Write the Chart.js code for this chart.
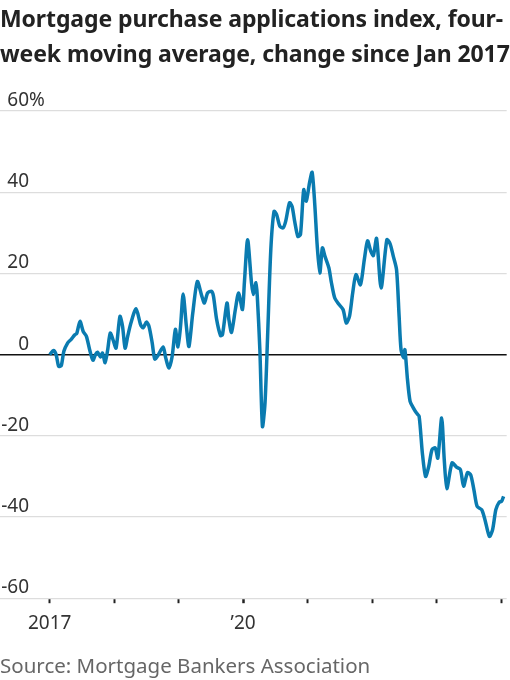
<!DOCTYPE html>
<html>
<head>
<meta charset="utf-8">
<script src="https://cdn.jsdelivr.net/npm/chart.js@4.4.1/dist/chart.umd.min.js"></script>
<style>
    body { margin: 0; width: 510px; height: 680px; position: relative; background: #fff; overflow: hidden; font-family: "Noto Sans", sans-serif; }
    #title { position: absolute; left: 0; top: 1px; width: 520px; font-size: 23px; font-weight: 700; line-height: 35px; color: #222; letter-spacing: -0.1px; z-index: 2; }
    #chartBox { position: absolute; left: 0; top: 0; width: 510px; height: 680px; }
    #source { position: absolute; left: 0; top: 655px; font-size: 20.5px; line-height: 20px; color: #666; }
</style>
</head>
<body>
<div id="title">Mortgage purchase applications index, four-<br>week moving average, change since Jan 2017</div>
<div id="chartBox"><canvas id="mortgageChart" width="510" height="680"></canvas></div>
<div id="source">Source: Mortgage Bankers Association</div>
<script>
// week positions as decimal years
const weekYears = [
    2017.00, 2017.06, 2017.10, 2017.14, 2017.18, 2017.22, 2017.28, 2017.33, 2017.39, 2017.42,
    2017.47, 2017.52, 2017.57, 2017.62, 2017.67, 2017.71, 2017.74, 2017.79, 2017.82, 2017.86,
    2017.90, 2017.94, 2017.99, 2018.03, 2018.09, 2018.13, 2018.17, 2018.21, 2018.26, 2018.34,
    2018.41, 2018.45, 2018.50, 2018.54, 2018.59, 2018.63, 2018.68, 2018.76, 2018.80, 2018.85,
    2018.90, 2018.95, 2018.99, 2019.03, 2019.07, 2019.12, 2019.16, 2019.22, 2019.29, 2019.36,
    2019.40, 2019.45, 2019.51, 2019.54, 2019.59, 2019.65, 2019.68, 2019.75, 2019.78, 2019.82,
    2019.88, 2019.93, 2019.99, 2020.02, 2020.07, 2020.13, 2020.16, 2020.20, 2020.22, 2020.26,
    2020.30, 2020.34, 2020.38, 2020.43, 2020.48, 2020.52, 2020.57, 2020.62, 2020.66, 2020.72,
    2020.76, 2020.80, 2020.85, 2020.89, 2020.94, 2020.98, 2021.03, 2021.07, 2021.11, 2021.15,
    2021.19, 2021.23, 2021.27, 2021.33, 2021.37, 2021.42, 2021.47, 2021.55, 2021.60, 2021.65,
    2021.70, 2021.75, 2021.82, 2021.88, 2021.93, 2021.98, 2022.02, 2022.07, 2022.14, 2022.23,
    2022.28, 2022.33, 2022.38, 2022.42, 2022.45, 2022.49, 2022.51, 2022.55, 2022.59, 2022.64,
    2022.69, 2022.73, 2022.78, 2022.83, 2022.88, 2022.93, 2022.98, 2023.02, 2023.08, 2023.12,
    2023.16, 2023.24, 2023.31, 2023.37, 2023.42, 2023.48, 2023.53, 2023.58, 2023.63, 2023.70,
    2023.75, 2023.82, 2023.87, 2023.92, 2023.97, 2024.01, 2024.04
];
// % change since Jan 2017
const changePct = [
    0, 1, 0, -2.9, -2.7, 0.8, 2.9, 3.7, 4.9, 5.2,
    8.2, 5.7, 4.5, 1.2, -1.4, 0, 0.6, -0.6, 0.4, -2,
    1.2, 5.3, 3.3, 1.6, 9.4, 7, 1.6, 4.5, 7.8, 11.3,
    7.4, 6.6, 8, 7, 2.9, -1.1, -0.2, 1.9, -0.8, -3.3,
    -0.4, 6.2, 1.9, 7, 14.9, 7, 2, 10.3, 18, 14.4,
    12.7, 15.2, 15.6, 14.4, 8.6, 4.7, 4.9, 12.7, 8.6, 5.5,
    11.1, 15.2, 11.1, 17.7, 28.3, 17.7, 14.8, 17.7, 14.4, 1.2,
    -17.7, -11.9, 4.5, 25.9, 35.3, 34.5, 31.6, 31.2, 32.8, 37.4,
    36.5, 32.8, 29.1, 29.6, 40.6, 37.8, 42.3, 44.9, 37.4, 26.7,
    20.1, 26.3, 24.2, 21.4, 17.7, 14, 12.7, 11.1, 7.8, 9.4,
    15.2, 19.7, 17.2, 23.4, 28, 25.5, 24.4, 28.6, 16.4, 28.3,
    27.3, 24.2, 20.9, 9.4, 1.2, -0.8, 1.2, -6.2, -11.5, -13.1,
    -14.4, -15.2, -24.2, -30, -27.5, -23.4, -23, -25.5, -15.6, -25.9,
    -33, -26.7, -27.7, -28.3, -32.4, -29.1, -29.6, -33.3, -37.4, -38.2,
    -40.6, -44.8, -43.1, -38.2, -36.4, -36.1, -34.9
];
const yTicks = [60, 40, 20, 0, -20, -40, -60];
const yTickLabels = ['60', '40', '20', '0', '-20', '-40', '-60'];
const xTicks = [2017, 2018, 2019, 2020, 2021, 2022, 2023, 2024];
const xTickLabels = ['2017', '', '', '\u201920', '', '', '', ''];

const labelFont = '19px "Noto Sans", sans-serif';

// WSJ style: y labels sit on top of the gridlines, at the left edge
const yLabelPlugin = {
    id: 'yLabels',
    afterDraw(chart) {
        const ctx = chart.ctx;
        const y = chart.scales.y;
        ctx.save();
        ctx.font = labelFont;
        ctx.fillStyle = '#333';
        ctx.textBaseline = 'alphabetic';
        yTicks.forEach((v, i) => {
            const py = y.getPixelForValue(v) - 5;
            ctx.textAlign = 'right';
            ctx.fillText(yTickLabels[i], 29, py);
            if (i === 0) {
                ctx.textAlign = 'left';
                ctx.fillText('%', 29, py);
            }
        });
        ctx.restore();
    }
};

const ctx = document.getElementById('mortgageChart').getContext('2d');
new Chart(ctx, {
    type: 'line',
    data: {
        datasets: [{
            data: weekYears.map((yr, i) => ({ x: yr, y: changePct[i] })),
            borderColor: '#0a7bb0',
            borderWidth: 3.5,
            pointRadius: 0,
            tension: 0.25,
            fill: false
        }]
    },
    options: {
        responsive: false,
        animation: false,
        devicePixelRatio: 1,
        layout: { padding: { top: 111, bottom: 36, left: 0, right: 0 } },
        plugins: { legend: { display: false }, tooltip: { enabled: false } },
        scales: {
            x: {
                type: 'linear',
                min: 2017 - 50 / 64.9,
                max: 2017 + 460 / 64.9,
                afterBuildTicks: scale => { scale.ticks = xTicks.map(v => ({ value: v })); },
                border: { display: false },
                grid: {
                    drawOnChartArea: false,
                    drawTicks: true,
                    tickLength: 5,
                    tickColor: '#222',
                    tickWidth: c => c.tick && c.tick.value === 2020 ? 2.5 : 2
                },
                ticks: {
                    autoSkip: false,
                    maxRotation: 0,
                    padding: 9,
                    color: '#333',
                    font: { family: '"Noto Sans", sans-serif', size: 19 },
                    callback: (v) => xTickLabels[xTicks.indexOf(v)] ?? ''
                }
            },
            y: {
                min: -60,
                max: 60,
                afterBuildTicks: scale => { scale.ticks = yTicks.map(v => ({ value: v })); },
                border: { display: false },
                grid: {
                    drawTicks: false,
                    color: c => c.tick.value === 0 ? '#111' : '#ddd',
                    lineWidth: c => c.tick.value === 0 ? 1.5 : 1.2
                },
                ticks: { display: false }
            }
        }
    },
    plugins: [yLabelPlugin]
});
</script>
</body>
</html>
